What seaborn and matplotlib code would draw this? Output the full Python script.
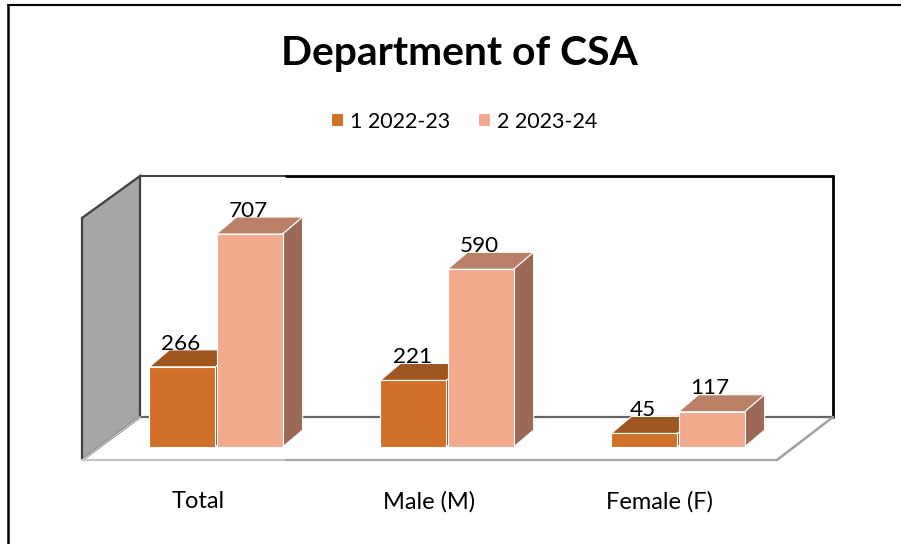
import pandas as pd
import seaborn as sns
import matplotlib.pyplot as plt
from matplotlib.patches import Polygon
from matplotlib.transforms import ScaledTranslation

categories = ['Total', 'Male (M)', 'Female (F)']
year_1 = [266, 221, 45]
year_2 = [707, 590, 117]
year_names = ['1 2022-23', '2 2023-24']
colors = ['#D2702A', '#F3A98C']
top_colors = ['#A0561F', '#B98066']
side_colors = ['#8A4C1D', '#9B6955']

W, H = 901, 544

sns.set_theme(style='white')
plt.rcParams['font.family'] = ['Lato', 'DejaVu Sans']

df = pd.DataFrame({
    'category': categories * 2,
    'year': [year_names[0]] * 3 + [year_names[1]] * 3,
    'students': year_1 + year_2,
})

fig = plt.figure(figsize=(W / 100, H / 100), dpi=100)

# background: page frame and the fake 3d walls, in pixel coords
bg = fig.add_axes([0, 0, 1, 1])
bg.set_xlim(0, W)
bg.set_ylim(H, 0)
bg.axis('off')
bg.add_patch(Polygon([(82, 218), (140, 176), (140, 417), (82, 460)],
                     facecolor='#A6A6A6', edgecolor='#404040', lw=1.6))
bg.plot([8, 8], [5, H], color='black', lw=1.8)
bg.plot([8, W], [5, 5], color='black', lw=1.5)
bg.plot([140, 286], [176, 176], color='#444444', lw=1.5)
bg.plot([286, 833], [176, 176], color='black', lw=2)
bg.plot([833, 833], [176, 417], color='black', lw=2)
bg.plot([140, 833], [417, 417], color='#666666', lw=1.6)
bg.plot([140, 82], [417, 460], color='#C8C8C8', lw=1.2)
bg.plot([82, 286], [460, 460], color='#C4C4C4', lw=1.6)
bg.plot([286, 777], [460, 460], color='#A6A6A6', lw=1.6)
bg.plot([777, 833], [460, 417], color='#A0A0A0', lw=1.8)

# chart axes sit on top, x from -0.5 to 2.5, y starts at the front bar base
ax_left, ax_right = 100.5, 793.5
ax_bottom, ax_top = 447, 206
ax = fig.add_axes([ax_left / W, 1 - ax_bottom / H,
                   (ax_right - ax_left) / W, (ax_bottom - ax_top) / H])
ax.patch.set_visible(False)

sns.barplot(data=df, x='category', y='students', hue='year',
            palette=colors, saturation=1, width=0.5813, gap=0.015,
            edgecolor='white', linewidth=0.8, ax=ax)
ax.set_ylim(0, 800)
ax.set_xlabel('')
ax.set_ylabel('')
ax.set_yticks([])
sns.despine(ax=ax, left=True, bottom=True)

# depth of the boxes, 20px right and 17px up
px_x = 3 / (ax_right - ax_left)
px_y = 800 / (ax_bottom - ax_top)
dx = 20 * px_x
dy = 17 * px_y

for n, cont in enumerate(ax.containers):
    z = 2 + n * 2
    for bar in cont:
        x0 = bar.get_x()
        x1 = x0 + bar.get_width()
        top = bar.get_height()
        bar.set_zorder(z + 0.5)
        bar.set_clip_on(False)
        ax.add_patch(Polygon([(x0, top), (x1, top), (x1 + dx, top + dy), (x0 + dx, top + dy)],
                             facecolor=top_colors[n], edgecolor='white', lw=0.8,
                             zorder=z, clip_on=False))
        ax.add_patch(Polygon([(x1, 0), (x1 + dx, dy), (x1 + dx, top + dy), (x1, top)],
                             facecolor=side_colors[n], edgecolor='white', lw=0.8,
                             zorder=z, clip_on=False))
        ax.annotate(f'{top:.0f}', (x0 + bar.get_width() / 2, top), xytext=(-1, 12.5),
                    textcoords='offset points', ha='center', va='baseline',
                    fontsize=16.2, color='black', zorder=10, annotation_clip=False)

ax.tick_params(axis='x', length=0, pad=31.5, labelsize=17, labelcolor='black')
shift = ScaledTranslation(-18 / 100, 0, fig.dpi_scale_trans)
for lab in ax.get_xticklabels():
    lab.set_transform(lab.get_transform() + shift)

sns.move_legend(ax, 'center', bbox_to_anchor=(464 / W, 1 - 121.5 / H),
                bbox_transform=fig.transFigure, ncol=2, title=None, frameon=False,
                fontsize=15.5, handlelength=0.55, handleheight=0.55,
                handletextpad=0.33, columnspacing=1.3)
for t in ax.get_legend().get_texts():
    t.set_color('black')

fig.text(459.5 / W, 1 - 53 / H, 'Department of CSA', ha='center', va='center',
         fontsize=29.4, fontweight='bold', color='black')

fig.savefig('out.png', dpi=100, facecolor='white')
